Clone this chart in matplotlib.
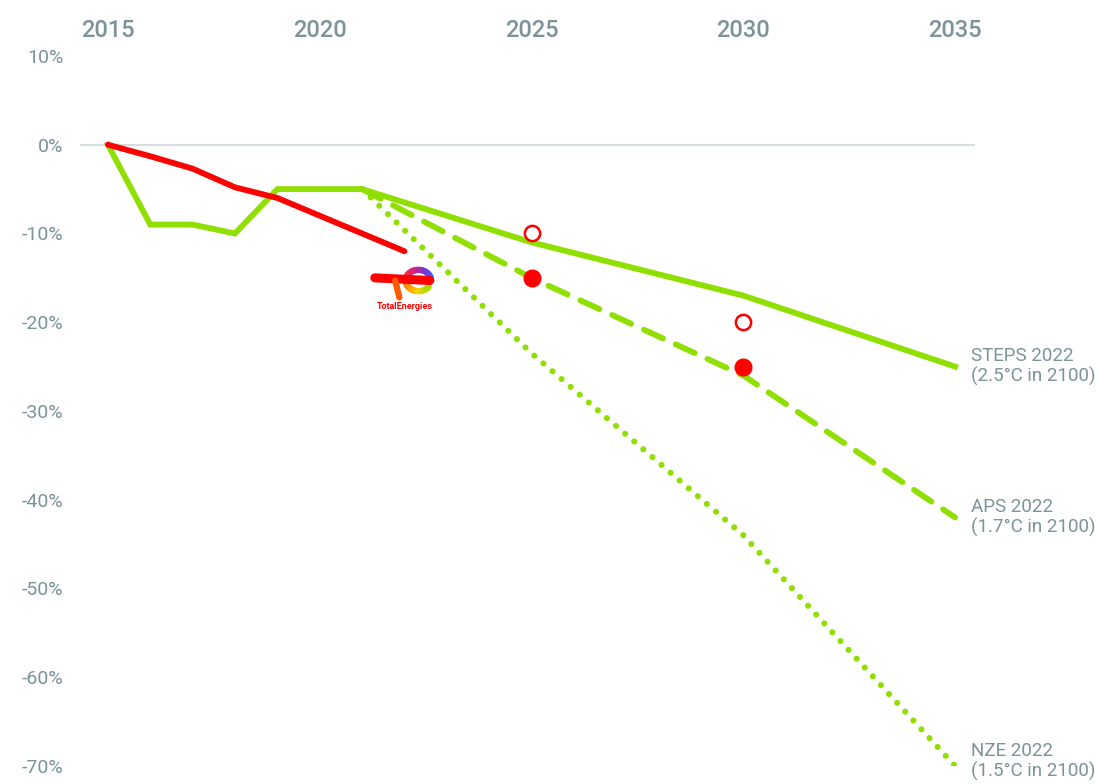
import matplotlib
matplotlib.use("Agg")
import matplotlib.pyplot as plt
import numpy as np
from matplotlib.colors import LinearSegmentedColormap

plt.rcParams['font.family'] = ['Roboto', 'DejaVu Sans']

# company trajectory (red)
company_years = [2015, 2016, 2017, 2018, 2019, 2020, 2021, 2022]
company_vals = [0, -1.3, -2.7, -4.8, -6, -8, -10, -12]

# company targets
target_years = [2025, 2030]
target_open = [-10, -20]
target_filled = [-15, -25]

# IEA scenarios
hist_years = [2015, 2016, 2017, 2018, 2019, 2020, 2021]
hist_vals = [0, -9, -9, -10, -5, -5, -5]
scen_years = [2021, 2025, 2030, 2035]
steps_vals = [-5, -11, -17, -25]
aps_vals = [-5, -15, -26, -42]
nze_vals = [-5, -23.5, -44, -70]

labels = {
    "STEPS 2022\n(2.5°C in 2100)": steps_vals[-1],
    "APS 2022\n(1.7°C in 2100)": aps_vals[-1],
    "NZE 2022\n(1.5°C in 2100)": -69.5,
}

xticks = [2015, 2020, 2025, 2030, 2035]
yticks = [10, 0, -10, -20, -30, -40, -50, -60, -70]

GREEN = "#8FE000"
RED = "#FF0000"
GREY = "#7B9399"

fig = plt.figure(figsize=(10.97, 7.84), dpi=100)
ax = fig.add_axes([0.0729, 0.023, 0.8159, 0.9056])

ax.axhline(0, color="#D5DDE0", lw=1.5, zorder=1)

ax.plot(hist_years + scen_years[1:], hist_vals + steps_vals[1:], color=GREEN,
        lw=4.2, solid_joinstyle="miter", zorder=3)
ax.plot(scen_years, aps_vals, color=GREEN, lw=4.2, dashes=(3.6, 2.4),
        dash_capstyle="round", zorder=3)
ax.plot(scen_years, nze_vals, color=GREEN, lw=4.4, dashes=(0.01, 1.95),
        dash_capstyle="round", zorder=3)

ax.plot(company_years, company_vals, color=RED, lw=4.2,
        solid_capstyle="round", zorder=4)
ax.plot(target_years, target_open, "o", ms=11, mfc="white", mec=RED,
        mew=1.8, ls="none", zorder=5)
ax.plot(target_years, target_filled, "o", ms=12, color=RED, ls="none", zorder=5)

for txt, y in labels.items():
    ax.text(2035.38, y, txt, color=GREY, fontsize=13.5, va="center",
            ha="left", linespacing=1.15, clip_on=False)

# TotalEnergies logo (simplified)
logo_cmap = LinearSegmentedColormap.from_list(
    "te", ["#2F7BFF", "#6A3FE0", "#C8208F", "#FF3030", "#FF8A00", "#FFD000", "#9BE000"])
arc_t = np.linspace(0.1, 1.8 * np.pi, 50)
ex = 2022.33 + 0.3 * np.cos(arc_t)
ey = -15.3 + 1.2 * np.sin(arc_t)
seg_cols = logo_cmap(np.linspace(0, 1, len(arc_t)))
for k in range(len(arc_t) - 1):
    ax.plot(ex[k:k + 2], ey[k:k + 2], color=seg_cols[k], lw=4.5,
            solid_capstyle="round", zorder=4)
ax.plot([2021.3, 2022.6], [-15.0, -15.3], color=RED, lw=6.5,
        solid_capstyle="round", zorder=4)
ax.plot([2021.78, 2021.88], [-15.3, -17.2], color="#FF5A00", lw=4.5,
        solid_capstyle="round", zorder=4)
ax.text(2022.0, -18.2, "TotalEnergies", color=RED, fontsize=6.5,
        fontweight="bold", ha="center", va="center")

ax.set_xlim(2014.34, 2035.47)
ax.set_ylim(-70, 10)
ax.set_xticks(xticks)
ax.set_yticks(yticks)
ax.set_yticklabels([f"{v}%" for v in yticks])
ax.xaxis.tick_top()
ax.tick_params(axis="x", length=0, pad=10, labelsize=17, colors=GREY)
ax.tick_params(axis="y", length=0, pad=12, labelsize=14, colors=GREY)
for lab in ax.get_xticklabels():
    lab.set_fontweight("medium")
for s in ax.spines.values():
    s.set_visible(False)

fig.savefig("out.png", dpi=100)
